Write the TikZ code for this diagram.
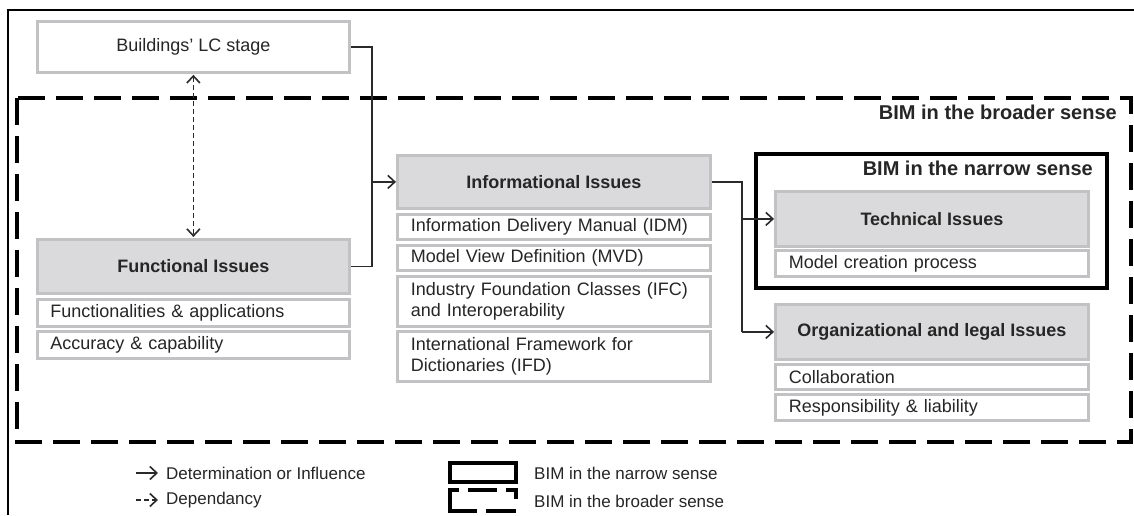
\documentclass[tikz,border=0pt]{standalone}
\usepackage{fontspec}
\setmainfont{Liberation Sans}
\usetikzlibrary{arrows.meta}
\definecolor{txt}{HTML}{262626}
\definecolor{boxline}{HTML}{C2C2C4}
\definecolor{headfill}{HTML}{DADADC}
\definecolor{wire}{HTML}{2A2A2A}
\tikzset{
  tip/.tip={Straight Barb[length=7pt,width=13pt,line width=1.6pt]},
  head/.style={draw=boxline, fill=headfill, line width=2.8pt, anchor=north west,
    inner sep=0pt, minimum width=312pt, minimum height=#1, text=txt,
    font=\fontsize{18}{21}\selectfont\bfseries},
  head/.default=54pt,
  item/.style={draw=boxline, fill=white, line width=2.8pt, anchor=north west,
    inner xsep=13pt, inner ysep=0pt, text width=286pt, align=left,
    minimum width=312pt, minimum height=#1, text=txt,
    font=\fontsize{18}{21}\selectfont},
  item/.default=26pt,
  wirestyle/.style={draw=wire, line width=1.6pt},
  link/.style={wirestyle, -tip},
  deplink/.style={wirestyle, dash pattern=on 5pt off 3pt, tip-tip},
  broad/.style={draw=black, line width=4pt, dash pattern=on 27pt off 11pt},
  narrow/.style={draw=black, line width=4pt},
  framelabel/.style={anchor=east, inner sep=0pt, text=txt,
    font=\fontsize{20}{22}\selectfont\bfseries},
  legendtext/.style={anchor=west, inner sep=0pt, text=txt,
    font=\fontsize{17}{19}\selectfont},
}
\begin{document}
\begin{tikzpicture}[x=1pt,y=-1pt]
\useasboundingbox (0,0) rectangle (1134,515);
\fill[white] (0,0) rectangle (1134,515);

% outer picture border (left and top edges)
\draw[black, line width=1.4pt] (8,515) -- (8,10) -- (1134,10);

% frames
\draw[broad] (17,98) rectangle (1131,442);
\node[framelabel] (broadlbl) at (1117,112) {BIM in the broader sense};
\draw[narrow] (756,154) rectangle (1107,288);
\node[framelabel] (narrowlbl) at (1093,168) {BIM in the narrow sense};

% life-cycle stage
\node[draw=boxline, fill=white, line width=2.8pt, anchor=north west, inner sep=0pt,
  minimum width=312pt, minimum height=51pt, text=txt,
  font=\fontsize{18}{21}\selectfont] (bld) at (36,20) {Buildings' LC stage};

% functional issues
\node[head] (fun) at (36,238) {Functional Issues};
\node[item=27pt] (fun1) at (36,298) {Functionalities \& applications};
\node[item=27pt] (fun2) at (36,330) {Accuracy \& capability};

% informational issues
\node[head=53pt, minimum width=313pt] (info) at (396,154) {Informational Issues};
\node[item=25pt, minimum width=313pt] (idm) at (396,213) {Information Delivery Manual (IDM)};
\node[item=25pt, minimum width=313pt] (mvd) at (396,244) {Model View Definition (MVD)};
\node[item=50pt, minimum width=313pt] (ifc) at (396,275) {Industry Foundation Classes (IFC)\\and Interoperability};
\node[item=50pt, minimum width=313pt] (ifd) at (396,330) {International Framework for\\Dictionaries (IFD)};

% technical issues
\node[head=55pt, minimum width=313pt] (tech) at (774,190) {Technical Issues};
\node[item=26pt, minimum width=313pt] (model) at (774,249) {Model creation process};

% organizational and legal issues
\node[head=55pt, minimum width=313pt] (org) at (774,303) {Organizational and legal Issues};
\node[item=25pt, minimum width=313pt] (collab) at (774,363) {Collaboration};
\node[item=26pt, minimum width=313pt] (resp) at (774,393) {Responsibility \& liability};

% connectors
\coordinate (j1) at (372,0);
\draw[wirestyle] (bld.east) -| (j1 |- fun.east) -- (fun.east);
\draw[link] (j1 |- info.west) -- (info.west);
\draw[deplink] ([yshift=-1pt]bld.south) -- ([yshift=1pt]fun.north);

\coordinate (j2) at (742,0);
\draw[wirestyle] (info.east) -- (j2 |- info.east) -- (j2 |- org.west);
\draw[link] (j2 |- tech.west) -- (tech.west);
\draw[link] (j2 |- org.west) -- (org.west);

% legend
\coordinate (la1) at (136,473);
\coordinate (la2) at (158,473);
\coordinate (lb1) at (136,500);
\coordinate (lb2) at (158,500);
\draw[link] (la1) -- (la2);
\node[legendtext] (lt1) at (166,473) {Determination or Influence};
\draw[wirestyle, dash pattern=on 5pt off 3pt, -tip] (lb1) -- (lb2);
\node[legendtext] (lt2) at (166,500) {Dependancy};

\draw[narrow] (450,463) rectangle (516,482);
\draw[black, line width=4pt] (459,490) -- (450,490) -- (450,511) -- (477,511);
\draw[black, line width=4pt] (486,511) -- (516,511);
\draw[black, line width=4pt] (468,490) -- (497,490);
\draw[black, line width=4pt] (506,490) -- (516,490) -- (516,499);
\node[legendtext] (lt3) at (534,473) {BIM in the narrow sense};
\node[legendtext] (lt4) at (534,501) {BIM in the broader sense};
\end{tikzpicture}
\end{document}
